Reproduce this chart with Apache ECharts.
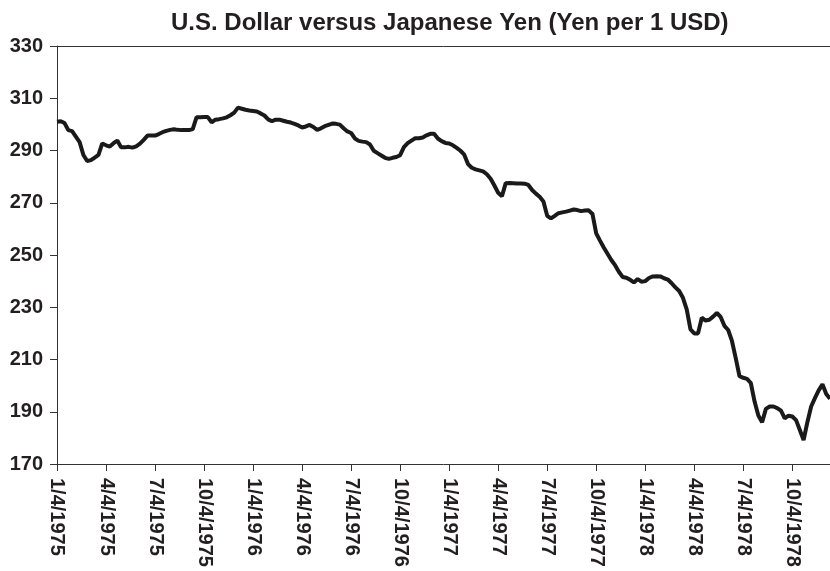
<!DOCTYPE html>
<html>
<head>
<meta charset="utf-8">
<script src="https://cdn.jsdelivr.net/npm/echarts@6/dist/echarts.min.js"></script>
<style>
  html, body { margin: 0; padding: 0; background: #fff; }
  #chart { width: 830px; height: 571px; }
</style>
</head>
<body>
<div id="chart"></div>
<script>
// weekly readings, starting 1/4/1975 (13 weeks ~ one quarter)
const yenPerUsd = [
  301, 301.2, 300.5, 297.8, 297.4, 295.3, 293.2, 288.3, 286, 286.3,
  287.3, 288.3, 292.7, 292, 291.5, 292.8, 293.8, 291.2, 291.2, 291.4,
  291.1, 291.6, 292.6, 294.1, 295.7, 295.7, 295.7, 296.3, 297, 297.5,
  297.9, 298.1, 297.9, 297.8, 297.8, 297.8, 298.2, 302.7, 302.7, 302.8,
  302.8, 300.8, 301.8, 302, 302.3, 302.7, 303.5, 304.5, 306.4, 306,
  305.6, 305.3, 305.1, 304.9, 304.2, 303.4, 301.9, 301.2, 301.8, 301.8,
  301.4, 301, 300.7, 300.2, 299.6, 298.8, 299.2, 299.8, 299, 297.9,
  298.5, 299.3, 299.8, 300.3, 300.2, 299.9, 298.5, 297.3, 296.7, 294.6,
  293.7, 293.4, 293.2, 292.3, 289.9, 289, 288.1, 287.2, 286.8, 287.2,
  287.5, 288.2, 291.3, 292.8, 293.8, 294.7, 294.7, 295, 295.8, 296.4,
  296.4, 294.6, 293.6, 292.9, 292.7, 292, 291, 289.9, 288.4, 284.8,
  283.4, 282.8, 282.4, 282, 280.9, 279.2, 276.6, 273.8, 272.5, 277.5,
  277.6, 277.5, 277.4, 277.4, 277.3, 276.8, 274.9, 273.5, 272.3, 270.5,
  265, 264, 265, 266, 266.3, 266.6, 267, 267.4, 267.2, 266.8,
  267, 267.1, 265.7, 258.3, 255.5, 252.9, 250.5, 248.1, 246.1, 243.6,
  241.6, 241.3, 240.5, 239.5, 240.8, 239.8, 240, 241.2, 241.8, 241.9,
  241.8, 241.1, 240.6, 239.2, 237.6, 236.2, 233.6, 229.2, 221.5, 220,
  220, 226, 224.9, 225.2, 226.4, 227.8, 226.3, 222.9, 221.3, 217.1,
  210.5, 203.6, 203, 202.6, 201, 193.9, 188.6, 186, 191.1, 192,
  192, 191.4, 190.4, 187.5, 188.5, 188.2, 186.8, 183, 179.2, 186,
  192, 195.2, 198.2, 200.5, 196.8, 195
]

const quarterLabels = [
  '1/4/1975', '4/4/1975', '7/4/1975', '10/4/1975',
  '1/4/1976', '4/4/1976', '7/4/1976', '10/4/1976',
  '1/4/1977', '4/4/1977', '7/4/1977', '10/4/1977',
  '1/4/1978', '4/4/1978', '7/4/1978', '10/4/1978',
]

const WEEKS_PER_QUARTER = 13
const weeks = yenPerUsd.map((v, i) => i)
const isQuarter = idx => idx % WEEKS_PER_QUARTER === 0

const chart = echarts.init(document.getElementById('chart'), null, { renderer: 'canvas' })

chart.setOption({
  backgroundColor: '#fff',
  animation: false,
  title: {
    text: 'U.S. Dollar versus Japanese Yen (Yen per 1 USD)',
    left: 166,
    top: 6,
    textStyle: {
      fontFamily: 'Liberation Sans',
      fontSize: 24,
      fontWeight: 'bold',
      color: '#231f20',
    },
  },
  grid: {
    left: 57,
    right: 0,
    top: 46,
    bottom: 107,
  },
  xAxis: [
    {
      type: 'category',
      data: weeks,
      boundaryGap: false,
      axisLine: { lineStyle: { color: '#333', width: 1 } },
      axisTick: {
        interval: isQuarter,
        length: 7,
        inside: false,
        lineStyle: { color: '#333' },
      },
      axisLabel: {
        interval: isQuarter,
        rotate: -90,
        margin: 14,
        fontFamily: 'Liberation Sans',
        fontSize: 20,
        fontWeight: 'bold',
        color: '#231f20',
        formatter: (val, idx) => quarterLabels[idx / WEEKS_PER_QUARTER] || '',
      },
      splitLine: { show: false },
    },
    {
      type: 'category',
      data: weeks,
      boundaryGap: false,
      position: 'top',
      axisLine: { lineStyle: { color: '#333', width: 1 } },
      axisTick: { show: false },
      axisLabel: { show: false },
    },
  ],
  yAxis: {
    type: 'value',
    min: 170,
    max: 330,
    interval: 20,
    axisLine: { show: true, lineStyle: { color: '#333', width: 1 } },
    axisTick: { show: true, length: 7, lineStyle: { color: '#333' } },
    axisLabel: {
      margin: 14,
      fontFamily: 'Liberation Sans',
      fontSize: 20,
      fontWeight: 'bold',
      color: '#231f20',
    },
    splitLine: { show: false },
  },
  series: [
    {
      type: 'line',
      data: yenPerUsd,
      xAxisIndex: 0,
      symbol: 'none',
      lineStyle: { color: '#1a1a1a', width: 4 },
    },
  ],
})
</script>
</body>
</html>
